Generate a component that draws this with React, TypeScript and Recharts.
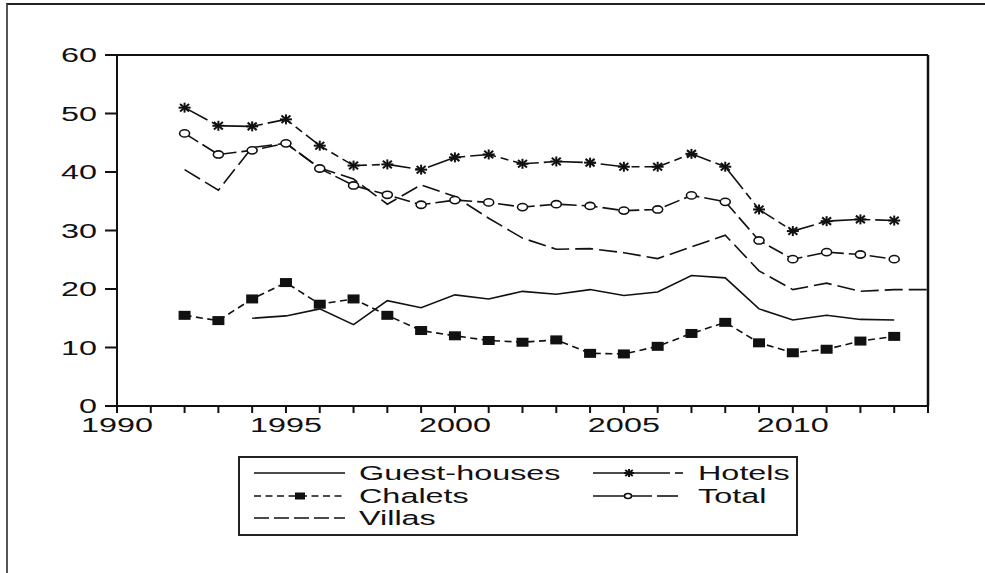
import React from 'react';
import { LineChart, Line, XAxis, YAxis, ReferenceLine } from 'recharts';

const years = [1992, 1993, 1994, 1995, 1996, 1997, 1998, 1999, 2000, 2001, 2002, 2003, 2004, 2005, 2006, 2007, 2008, 2009, 2010, 2011, 2012, 2013, 2014];
const guestHouses = [null, null, 15.0, 15.4, 16.6, 13.9, 18.0, 16.8, 19.0, 18.3, 19.6, 19.1, 19.9, 18.9, 19.5, 22.3, 21.9, 16.6, 14.7, 15.5, 14.8, 14.7, null];
const hotels = [51.0, 47.9, 47.8, 49.0, 44.5, 41.1, 41.3, 40.4, 42.5, 43.0, 41.4, 41.8, 41.6, 40.9, 40.9, 43.1, 40.9, 33.6, 29.9, 31.6, 31.9, 31.7, null];
const chalets = [15.5, 14.6, 18.3, 21.1, 17.4, 18.3, 15.5, 12.9, 12.0, 11.2, 10.9, 11.3, 9.0, 8.9, 10.2, 12.4, 14.3, 10.8, 9.1, 9.7, 11.1, 11.9, null];
const total = [46.6, 43.0, 43.7, 44.9, 40.6, 37.7, 36.1, 34.4, 35.2, 34.8, 34.0, 34.5, 34.2, 33.4, 33.6, 36.0, 34.9, 28.3, 25.1, 26.3, 25.9, 25.1, null];
const villas = [40.4, 36.9, 44.2, 44.9, 40.7, 38.8, 34.5, 37.8, 35.8, 32.1, 28.7, 26.8, 26.9, 26.2, 25.2, 27.2, 29.2, 23.1, 19.9, 21.0, 19.6, 19.9, 19.9];

const xTicks = [1990, 1991, 1992, 1993, 1994, 1995, 1996, 1997, 1998, 1999, 2000, 2001, 2002, 2003, 2004, 2005, 2006, 2007, 2008, 2009, 2010, 2011, 2012, 2013, 2014];
const yTicks = [0, 10, 20, 30, 40, 50, 60];

const data = years.map((year, i) => ({
  year,
  guestHouses: guestHouses[i],
  hotels: hotels[i],
  chalets: chalets[i],
  total: total[i],
  villas: villas[i],
}));

const INK = '#111';
const FONT = '"Liberation Sans", Arial, sans-serif';
const FS = 19.5;
const STRETCH = 1.66;

function Stretched({ x, y, anchor, children }: any) {
  return (
    <text
      transform={`translate(${x},${y}) scale(${STRETCH},1)`}
      textAnchor={anchor}
      fontFamily={FONT}
      fontSize={FS}
      fill={INK}
    >
      {children}
    </text>
  );
}

function XTick({ x, y, payload }: any) {
  if (payload.value % 5 !== 0) return <g />;
  return <Stretched x={x} y={y + 17} anchor="middle">{payload.value}</Stretched>;
}

function YTick({ x, y, payload }: any) {
  return <Stretched x={x} y={y + 7} anchor="end">{payload.value}</Stretched>;
}

function Star({ cx, cy, w = 6, h = 5 }: any) {
  if (cx == null || cy == null) return <g />;
  return (
    <g stroke={INK} strokeWidth={2}>
      <line x1={cx - w} y1={cy} x2={cx + w} y2={cy} />
      <line x1={cx} y1={cy - h} x2={cx} y2={cy + h} />
      <line x1={cx - w * 0.75} y1={cy - h * 0.75} x2={cx + w * 0.75} y2={cy + h * 0.75} />
      <line x1={cx - w * 0.75} y1={cy + h * 0.75} x2={cx + w * 0.75} y2={cy - h * 0.75} />
    </g>
  );
}

function Square({ cx, cy, w = 12, h = 9 }: any) {
  if (cx == null || cy == null) return <g />;
  return <rect x={cx - w / 2} y={cy - h / 2} width={w} height={h} fill={INK} />;
}

function Ring({ cx, cy, rx = 5, ry = 3.6 }: any) {
  if (cx == null || cy == null) return <g />;
  return <ellipse cx={cx} cy={cy} rx={rx} ry={ry} fill="#fff" stroke={INK} strokeWidth={1.6} />;
}

const dotKey = (p: any, name: string) => `${name}-${p.index}`;

function LegendBox() {
  const rows = [473, 496, 518];
  return (
    <svg width={985} height={573} style={{ position: 'absolute', left: 0, top: 0, pointerEvents: 'none' }}>
      <rect x={239} y={457} width={558} height={78} fill="none" stroke="#222" strokeWidth={2} />
      <g stroke={INK} strokeWidth={1.6}>
        <line x1={254} y1={rows[0]} x2={345} y2={rows[0]} />
        <line x1={254} y1={rows[1]} x2={345} y2={rows[1]} strokeDasharray="7 4.5" />
        <line x1={254} y1={rows[2]} x2={345} y2={rows[2]} strokeDasharray="15 5" />
        <line x1={593} y1={rows[0]} x2={670} y2={rows[0]} />
        <line x1={675} y1={rows[0]} x2={683} y2={rows[0]} />
        <line x1={593} y1={rows[1]} x2={652} y2={rows[1]} />
        <line x1={657} y1={rows[1]} x2={678} y2={rows[1]} />
      </g>
      <Square cx={300} cy={rows[1]} w={10} h={7} />
      <Star cx={629} cy={rows[0]} w={5} h={4} />
      <Ring cx={628} cy={rows[1]} rx={3.5} ry={2.5} />
      <Stretched x={359} y={rows[0] + 7} anchor="start">Guest-houses</Stretched>
      <Stretched x={359} y={rows[1] + 7} anchor="start">Chalets</Stretched>
      <Stretched x={359} y={rows[2] + 7} anchor="start">Villas</Stretched>
      <Stretched x={698} y={rows[0] + 7} anchor="start">Hotels</Stretched>
      <Stretched x={698} y={rows[1] + 7} anchor="start">Total</Stretched>
    </svg>
  );
}

export default function App() {
  return (
    <div style={{ position: 'fixed', left: 0, top: 0, width: 985, height: 573, background: '#fff', overflow: 'hidden' }}>
      <div
        style={{
          position: 'absolute',
          left: 6,
          top: 3,
          width: 1000,
          height: 600,
          borderLeft: '2px solid #555',
          borderTop: '2px solid #222',
        }}
      />
      <LineChart
        width={985}
        height={573}
        data={data}
        margin={{ top: 55, right: 57, left: 57, bottom: 137 }}
        style={{ position: 'absolute', left: 0, top: 0 }}
      >
        <XAxis
          dataKey="year"
          type="number"
          domain={[1990, 2014]}
          ticks={xTicks}
          interval={0}
          height={30}
          tickSize={7}
          tick={<XTick />}
          axisLine={{ stroke: INK, strokeWidth: 2 }}
          tickLine={{ stroke: INK, strokeWidth: 2 }}
        />
        <YAxis
          type="number"
          domain={[0, 60]}
          ticks={yTicks}
          interval={0}
          width={60}
          tickSize={12}
          tickMargin={8}
          tick={<YTick />}
          axisLine={{ stroke: INK, strokeWidth: 2 }}
          tickLine={{ stroke: INK, strokeWidth: 2 }}
        />
        <ReferenceLine y={60} stroke={INK} strokeWidth={2} />
        <ReferenceLine x={2014} stroke={INK} strokeWidth={2.5} />
        <Line
          dataKey="guestHouses"
          type="linear"
          stroke={INK}
          strokeWidth={1.6}
          dot={false}
          isAnimationActive={false}
        />
        <Line
          dataKey="villas"
          type="linear"
          stroke={INK}
          strokeWidth={1.6}
          strokeDasharray="18 6"
          dot={false}
          isAnimationActive={false}
        />
        <Line
          dataKey="chalets"
          type="linear"
          stroke={INK}
          strokeWidth={1.6}
          strokeDasharray="7 4.5"
          dot={(p: any) => <Square key={dotKey(p, 'c')} cx={p.cx} cy={p.value == null ? null : p.cy} />}
          isAnimationActive={false}
        />
        <Line
          dataKey="total"
          type="linear"
          stroke={INK}
          strokeWidth={1.6}
          strokeDasharray="16 5"
          dot={(p: any) => <Ring key={dotKey(p, 't')} cx={p.cx} cy={p.value == null ? null : p.cy} />}
          isAnimationActive={false}
        />
        <Line
          dataKey="hotels"
          type="linear"
          stroke={INK}
          strokeWidth={1.6}
          strokeDasharray="26 5 8 5"
          dot={(p: any) => <Star key={dotKey(p, 'h')} cx={p.cx} cy={p.value == null ? null : p.cy} />}
          isAnimationActive={false}
        />
      </LineChart>
      <LegendBox />
    </div>
  );
}
